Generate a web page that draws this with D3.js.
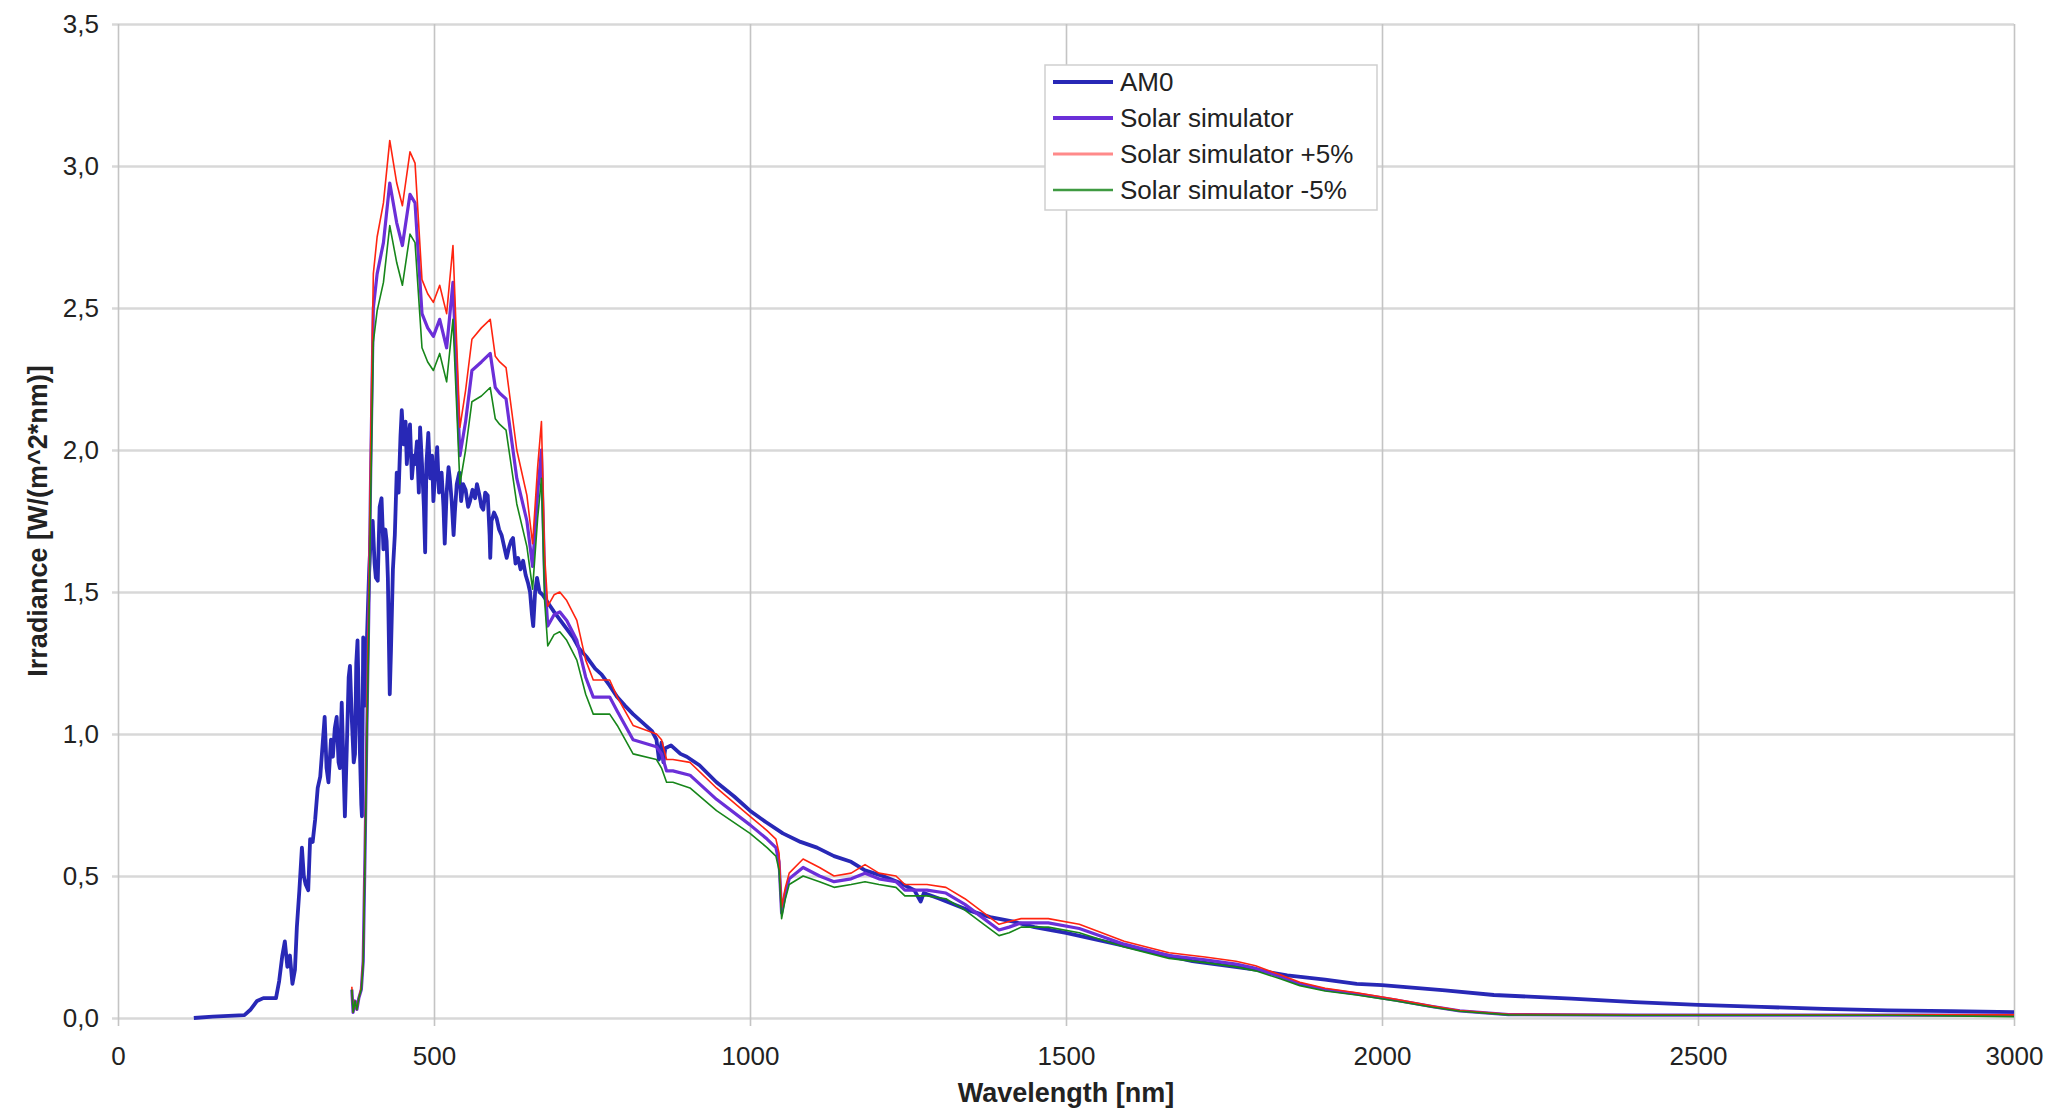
<!DOCTYPE html>
<html>
<head>
<meta charset="utf-8">
<script src="https://cdn.jsdelivr.net/npm/d3@7"></script>
<style>
  body { margin: 0; background: #fff; }
  text { font-family: "Liberation Sans", Arial, sans-serif; fill: #222; }
</style>
</head>
<body>
<div id="chart-wrapper"></div>
<script>
// AM0 spectrum (wavelength nm / irradiance W/(m^2*nm))
const am0Wl = [120, 150, 200, 210, 220, 230, 240, 250, 255, 260, 264, 268, 272, 276, 280, 283, 287, 291, 294, 297,
  301, 304, 308, 312, 316, 320, 324, 327, 330, 333, 337, 340, 343, 346, 349, 351, 354, 357, 359, 362,
  365, 367, 370, 373, 375, 377, 379, 382, 385, 386, 388, 391, 394, 397, 400, 403, 406, 408, 411, 414,
  417, 420, 423, 425, 427, 430, 432, 435, 438, 441, 444, 447, 449, 452, 455, 457, 460, 462, 465, 468,
  470, 473, 476, 478, 481, 484, 486, 488, 491, 494, 497, 499, 502, 505, 508, 512, 515, 517, 520, 523,
  525, 528, 531, 533, 536, 540, 543, 546, 550, 554, 557, 561, 565, 568, 572, 575, 578, 581, 585, 588,
  589, 591, 595, 599, 603, 607, 611, 615, 619, 622, 625, 629, 633, 637, 641, 645, 649, 652, 655, 657,
  660, 663, 667, 672, 678, 684, 690, 700, 710, 720, 730, 742, 755, 765, 778, 790, 802, 815, 830, 845,
  852, 856, 860, 863, 866, 875, 890, 900, 920, 947, 975, 1000, 1025, 1052, 1080, 1106, 1133, 1160, 1182, 1210,
  1238, 1260, 1270, 1275, 1300, 1345, 1380, 1415, 1450, 1500, 1550, 1600, 1650, 1700, 1750, 1800, 1850, 1910, 1960, 2000,
  2100, 2177, 2300, 2400, 2500, 2600, 2700, 2800, 2900, 3000];
const am0Val = [0.0, 0.005, 0.01, 0.03, 0.06, 0.07, 0.07, 0.07, 0.13, 0.22, 0.27, 0.18, 0.22, 0.12, 0.17, 0.32, 0.45, 0.60, 0.50, 0.47,
  0.45, 0.63, 0.62, 0.70, 0.81, 0.85, 0.97, 1.06, 0.88, 0.83, 0.98, 0.92, 1.02, 1.06, 0.90, 0.88, 1.11, 0.87, 0.71, 0.95,
  1.20, 1.24, 1.05, 0.90, 0.93, 1.25, 1.33, 1.00, 0.75, 0.71, 1.34, 1.10, 1.34, 1.55, 1.70, 1.75, 1.60, 1.55, 1.54, 1.80,
  1.83, 1.65, 1.72, 1.68, 1.55, 1.14, 1.30, 1.58, 1.70, 1.92, 1.85, 2.05, 2.14, 2.02, 2.10, 1.95, 2.05, 2.09, 1.90, 1.98,
  1.95, 2.03, 1.85, 2.08, 1.95, 1.80, 1.64, 1.95, 2.06, 1.90, 1.98, 1.82, 1.92, 2.01, 1.85, 1.92, 1.80, 1.67, 1.85, 1.94,
  1.90, 1.82, 1.70, 1.78, 1.88, 1.92, 1.82, 1.88, 1.86, 1.80, 1.82, 1.86, 1.83, 1.88, 1.84, 1.80, 1.79, 1.85, 1.84, 1.70,
  1.62, 1.75, 1.78, 1.76, 1.72, 1.70, 1.66, 1.62, 1.66, 1.68, 1.69, 1.60, 1.62, 1.58, 1.61, 1.56, 1.53, 1.50, 1.42, 1.38,
  1.50, 1.55, 1.50, 1.49, 1.47, 1.45, 1.43, 1.40, 1.37, 1.34, 1.30, 1.27, 1.23, 1.21, 1.17, 1.13, 1.10, 1.07, 1.04, 1.01,
  0.98, 0.91, 0.97, 0.90, 0.95, 0.96, 0.93, 0.92, 0.89, 0.83, 0.78, 0.73, 0.69, 0.65, 0.62, 0.60, 0.57, 0.55, 0.52, 0.50,
  0.475, 0.45, 0.41, 0.44, 0.42, 0.38, 0.355, 0.34, 0.32, 0.30, 0.275, 0.25, 0.225, 0.20, 0.185, 0.17, 0.15, 0.135, 0.12, 0.116,
  0.097, 0.081, 0.068, 0.056, 0.046, 0.039, 0.032, 0.027, 0.024, 0.021];

// solar simulator spectrum, shares one wavelength list with the +5% / -5% curves
const simWl = [370, 372, 375, 378, 381, 385, 388, 391, 394, 397, 400, 404, 410, 420, 430, 441, 450, 462, 470, 481,
  490, 499, 509, 520, 530, 537, 541, 550, 560, 575, 589, 597, 604, 614, 631, 647, 656, 664, 670, 675,
  680, 690, 699, 710, 726, 740, 752, 778, 790, 815, 852, 860, 868, 878, 905, 947, 1000, 1027, 1041, 1046,
  1050, 1056, 1062, 1084, 1110, 1133, 1160, 1182, 1204, 1231, 1245, 1280, 1310, 1340, 1370, 1394, 1410, 1429, 1472, 1521,
  1592, 1663, 1720, 1769, 1800, 1839, 1870, 1910, 1960, 2022, 2080, 2123, 2200, 2400, 2600, 2800, 3000];
const simVal = [0.10, 0.02, 0.06, 0.03, 0.07, 0.10, 0.20, 0.60, 1.05, 1.45, 1.95, 2.50, 2.62, 2.73, 2.94, 2.80, 2.72, 2.90, 2.87, 2.48,
  2.43, 2.40, 2.46, 2.36, 2.59, 2.20, 1.98, 2.10, 2.28, 2.31, 2.34, 2.22, 2.20, 2.18, 1.90, 1.75, 1.59, 1.85, 2.00, 1.55,
  1.38, 1.42, 1.43, 1.40, 1.33, 1.20, 1.13, 1.13, 1.08, 0.98, 0.955, 0.93, 0.87, 0.87, 0.855, 0.77, 0.68, 0.63, 0.60, 0.55,
  0.37, 0.44, 0.49, 0.53, 0.50, 0.48, 0.49, 0.51, 0.49, 0.48, 0.45, 0.45, 0.44, 0.40, 0.35, 0.31, 0.32, 0.335, 0.335, 0.315,
  0.26, 0.22, 0.205, 0.19, 0.175, 0.145, 0.12, 0.10, 0.085, 0.063, 0.04, 0.025, 0.012, 0.01, 0.01, 0.01, 0.01];
const simPlusVal = [0.11, 0.02, 0.06, 0.03, 0.07, 0.11, 0.21, 0.63, 1.10, 1.52, 2.05, 2.62, 2.75, 2.87, 3.09, 2.94, 2.86, 3.05, 3.01, 2.60,
  2.55, 2.52, 2.58, 2.48, 2.72, 2.31, 2.08, 2.21, 2.39, 2.43, 2.46, 2.33, 2.31, 2.29, 2.00, 1.84, 1.67, 1.94, 2.10, 1.63,
  1.45, 1.49, 1.50, 1.47, 1.40, 1.26, 1.19, 1.19, 1.13, 1.03, 1.00, 0.98, 0.91, 0.91, 0.90, 0.81, 0.71, 0.66, 0.63, 0.58,
  0.39, 0.46, 0.51, 0.56, 0.53, 0.50, 0.51, 0.54, 0.51, 0.50, 0.47, 0.47, 0.46, 0.42, 0.37, 0.33, 0.34, 0.35, 0.35, 0.33,
  0.27, 0.23, 0.215, 0.20, 0.184, 0.152, 0.126, 0.105, 0.089, 0.066, 0.042, 0.026, 0.013, 0.011, 0.011, 0.011, 0.011];
const simMinusVal = [0.10, 0.02, 0.06, 0.03, 0.07, 0.10, 0.19, 0.57, 1.00, 1.38, 1.85, 2.38, 2.49, 2.59, 2.79, 2.66, 2.58, 2.76, 2.73, 2.36,
  2.31, 2.28, 2.34, 2.24, 2.46, 2.09, 1.88, 2.00, 2.17, 2.19, 2.22, 2.11, 2.09, 2.07, 1.81, 1.66, 1.51, 1.76, 1.90, 1.47,
  1.31, 1.35, 1.36, 1.33, 1.26, 1.14, 1.07, 1.07, 1.03, 0.93, 0.91, 0.88, 0.83, 0.83, 0.81, 0.73, 0.65, 0.60, 0.57, 0.52,
  0.35, 0.42, 0.47, 0.50, 0.48, 0.46, 0.47, 0.48, 0.47, 0.46, 0.43, 0.43, 0.42, 0.38, 0.33, 0.29, 0.30, 0.32, 0.32, 0.30,
  0.25, 0.21, 0.195, 0.18, 0.166, 0.138, 0.114, 0.095, 0.081, 0.060, 0.038, 0.024, 0.011, 0.0095, 0.0095, 0.0095, 0.005];

const xTicks = [0, 500, 1000, 1500, 2000, 2500, 3000];
const yTicks = [0, 0.5, 1.0, 1.5, 2.0, 2.5, 3.0, 3.5];
const legendNames = ["AM0", "Solar simulator", "Solar simulator +5%", "Solar simulator -5%"];

// Dimensions object
let dimensions = {
  width: 2058,
  height: 1112,
  margin: { top: 24, right: 44, bottom: 94, left: 118 },
};
dimensions.boundedWidth = dimensions.width - dimensions.margin.left - dimensions.margin.right;
dimensions.boundedHeight = dimensions.height - dimensions.margin.top - dimensions.margin.bottom;

const wrapper = d3
  .select("#chart-wrapper")
  .append("svg")
  .attr("width", dimensions.width)
  .attr("height", dimensions.height);

const bounds = wrapper
  .append("g")
  .attr("transform", `translate(${dimensions.margin.left},${dimensions.margin.top})`);

// scales
const xScale = d3.scaleLinear().domain([0, 3000]).range([0, dimensions.boundedWidth]);
const yScale = d3.scaleLinear().domain([0, 3.5]).range([dimensions.boundedHeight, 0]);

// y axis: horizontal grid lines stick out 6px to the left of the plot
const yAxisGenerator = d3
  .axisLeft(yScale)
  .tickValues(yTicks)
  .tickSize(-(dimensions.boundedWidth + 6))
  .tickPadding(13)
  .tickFormat((d) => d3.format(".1f")(d).replace(".", ","));

const yAxis = bounds
  .append("g")
  .attr("transform", "translate(-6,0)")
  .call(yAxisGenerator);
yAxis.select(".domain").remove();
yAxis.selectAll("line").attr("stroke", "#d8d8d8").attr("stroke-width", 2.5);
yAxis.selectAll("text").style("font-size", "26px");

// x axis: vertical grid lines go 8px below the plot
const xAxisGenerator = d3
  .axisBottom(xScale)
  .tickValues(xTicks)
  .tickSize(-(dimensions.boundedHeight + 8))
  .tickPadding(21)
  .tickFormat(d3.format("d"));

const xAxis = bounds
  .append("g")
  .attr("transform", `translate(0,${dimensions.boundedHeight + 8})`)
  .call(xAxisGenerator);
xAxis.select(".domain").remove();
xAxis.selectAll("line").attr("stroke", "#c4c4c4").attr("stroke-width", 1.6);
xAxis.selectAll("text").style("font-size", "26px");

// axis titles
bounds
  .append("text")
  .attr("x", dimensions.boundedWidth / 2)
  .attr("y", dimensions.boundedHeight + 84)
  .attr("text-anchor", "middle")
  .style("font-size", "27px")
  .style("font-weight", "bold")
  .text("Wavelength [nm]");

bounds
  .append("text")
  .attr("transform", `translate(${47 - dimensions.margin.left},${dimensions.boundedHeight / 2}) rotate(-90)`)
  .attr("text-anchor", "middle")
  .style("font-size", "27px")
  .style("font-weight", "bold")
  .text("Irradiance [W/(m^2*nm)]");

// Draw the data
const toPoints = (wl, vals) => wl.map((w, i) => ({ x: w, y: vals[i] }));

const lineGenerator = d3
  .line()
  .x((d) => xScale(d.x))
  .y((d) => yScale(d.y));

const series = [
  { name: legendNames[0], points: toPoints(am0Wl, am0Val), color: "#2828b6", width: 3.8, legendColor: "#2828b6", legendWidth: 4 },
  { name: legendNames[1], points: toPoints(simWl, simVal), color: "#6b2fd8", width: 3.2, legendColor: "#6b2fd8", legendWidth: 4 },
  { name: legendNames[2], points: toPoints(simWl, simPlusVal), color: "#ff2410", width: 1.6, legendColor: "#ff8a8a", legendWidth: 3 },
  { name: legendNames[3], points: toPoints(simWl, simMinusVal), color: "#17861a", width: 1.6, legendColor: "#3f9a42", legendWidth: 2.5 },
];

bounds
  .selectAll(".series")
  .data(series)
  .join("path")
  .attr("class", "series")
  .attr("d", (d) => lineGenerator(d.points))
  .attr("fill", "none")
  .attr("stroke", (d) => d.color)
  .attr("stroke-width", (d) => d.width)
  .attr("stroke-linejoin", "round");

// legend box
const legend = wrapper.append("g").attr("transform", "translate(1045,65)");

legend
  .append("rect")
  .attr("width", 332)
  .attr("height", 145)
  .attr("fill", "#fff")
  .attr("stroke", "#cfcfcf")
  .attr("stroke-width", 1.5);

const legendRows = legend
  .selectAll(".row")
  .data(series)
  .join("g")
  .attr("class", "row")
  .attr("transform", (d, i) => `translate(0,${17 + i * 36})`);

legendRows
  .append("line")
  .attr("x1", 8)
  .attr("x2", 68)
  .attr("stroke", (d) => d.legendColor)
  .attr("stroke-width", (d) => d.legendWidth);

legendRows
  .append("text")
  .attr("x", 75)
  .attr("y", 9)
  .style("font-size", "26px")
  .text((d) => d.name);
</script>
</body>
</html>
